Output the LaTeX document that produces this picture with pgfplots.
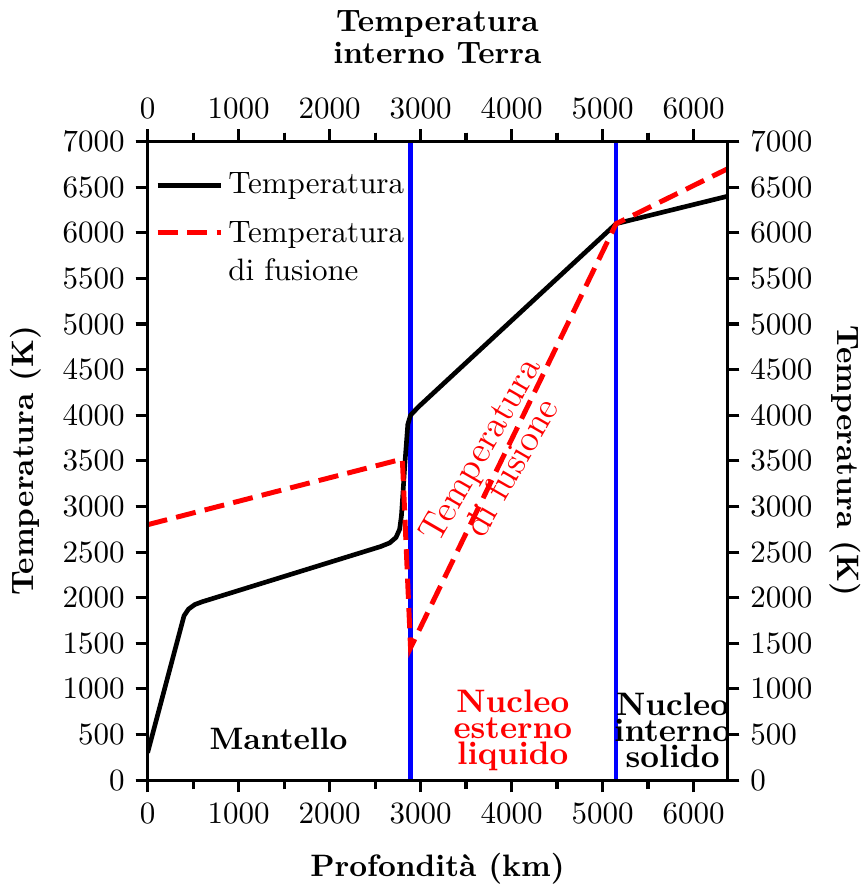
\documentclass[border=0pt]{standalone}
\usepackage{pgfplots}
\pgfplotsset{compat=1.18}
\begin{document}
\begin{tikzpicture}
\pgfplotsset{
  common/.style={
    width=187pt, height=206pt, scale only axis,
    xmin=0, xmax=6371, ymin=0, ymax=7000,
    xtick={0,1000,...,6000}, minor xtick={500,1500,...,5500},
    ytick={0,500,...,7000},
    tick align=outside,
    major tick length=3.9pt, minor tick length=2.9pt,
    axis line style={line width=1pt},
    every tick/.style={line width=1pt, black},
    scaled ticks=false,
    xticklabel style={/pgf/number format/1000 sep={}},
    yticklabel style={/pgf/number format/1000 sep={}},
  }
}
\begin{axis}[common,
  xticklabel pos=lower, yticklabel pos=left,
  xlabel={\bfseries Profondit\`a (km)},
  ylabel={\bfseries Temperatura (K)},
  xlabel style={yshift=-3pt},
  legend cell align=left,
  legend style={draw=none, fill=none, at={(0.012,0.962)}, anchor=north west,
    row sep=2pt, inner sep=0pt, nodes={inner xsep=1.5pt}},
  legend image code/.code={\draw[#1] (0cm,0cm) -- (0.72cm,0cm);},
]
\addplot[blue, line width=1.4pt, forget plot] coordinates {(2890,0) (2890,7000)};
\addplot[blue, line width=1.4pt, forget plot] coordinates {(5150,0) (5150,7000)};
\addplot[black, line width=1.5pt] coordinates {
  (0,300) (400,1800) (450,1875) (520,1925) (600,1955)
  (2560,2560) (2660,2600) (2730,2660) (2770,2750) (2790,2900)
  (2830,3500) (2860,3900) (2890,4000) (2975,4090)
  (5150,6100) (6371,6400)};
\addlegendentry{Temperatura}
\addplot[red, line width=1.6pt, dash pattern=on 6.5pt off 3pt] coordinates {
  (0,2800) (2800,3520) (2890,1450) (5150,6100) (6371,6700)};
\addlegendentry{\begin{tabular}[t]{@{}l@{}}Temperatura\\di fusione\end{tabular}}
\node[font=\bfseries] at (axis cs:1440,450) {Mantello};
\node[font=\bfseries\fontsize{10.5}{8.4}\selectfont, text=red, align=center] at (axis cs:4014,545) {Nucleo\\esterno\\liquido};
\node[font=\bfseries\fontsize{10.5}{8.4}\selectfont, text=black, align=center, inner sep=0pt] at (axis cs:5770,545) {Nucleo\\interno\\solido};
\node[text=red, align=center, rotate=60, font=\fontsize{12}{11.5}\selectfont] at (axis cs:3820,3530) {Temperatura\\di fusione};
\end{axis}
\begin{axis}[common, name=ax2,
  xticklabel pos=upper, yticklabel pos=right,
  title={\bfseries Temperatura\\\bfseries interno Terra},
  title style={align=center, yshift=15.5pt, font=\fontsize{10}{10.5}\selectfont},
]
\end{axis}
\node[rotate=-90, anchor=south, inner sep=1pt, font=\bfseries] at ([xshift=32pt]ax2.east) {Temperatura (K)};
\end{tikzpicture}
\end{document}
